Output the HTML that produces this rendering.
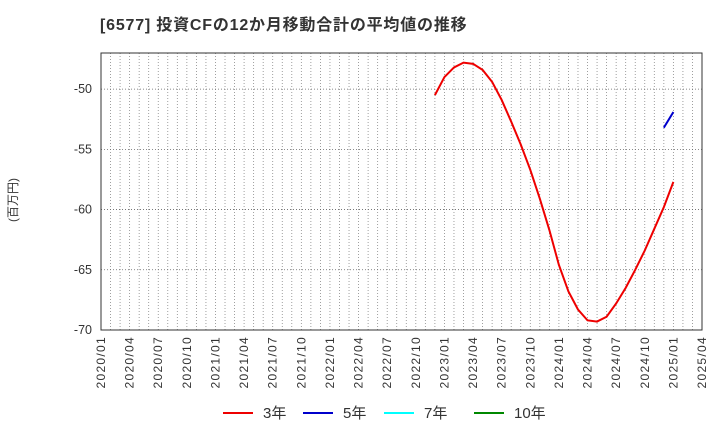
<!DOCTYPE html>
<html><head><meta charset="utf-8"><style>
body{margin:0;background:#fff;width:720px;height:440px;overflow:hidden;font-family:"Liberation Sans","Noto Sans CJK JP",sans-serif;}
</style></head><body>
<svg id="chart" width="720" height="440" xmlns="http://www.w3.org/2000/svg" font-family="Liberation Sans, Noto Sans CJK JP, sans-serif">
<text x="100" y="30" font-size="16" font-weight="bold" fill="#333" letter-spacing="0.8">[6577]  投資CFの12か月移動合計の平均値の推移</text>
<text transform="translate(17,200) rotate(-90)" font-size="12" fill="#333" text-anchor="middle">(百万円)</text>
<g id="grid"></g><g id="axes"></g><g id="series"></g>
<g font-size="15" fill="#333">
<line x1="223" y1="413" x2="253" y2="413" stroke="#e00" stroke-width="2"/><text x="263" y="418">3年</text>
<line x1="303" y1="413" x2="333" y2="413" stroke="#00c" stroke-width="2"/><text x="343" y="418">5年</text>
<line x1="384" y1="413" x2="414" y2="413" stroke="#0ff" stroke-width="2"/><text x="424" y="418">7年</text>
<line x1="474" y1="413" x2="504" y2="413" stroke="#080" stroke-width="2"/><text x="514" y="418">10年</text>
</g>
</svg>
<script>
const yTicks=[-50,-55,-60,-65,-70];
const xTickLabels=["2020/01","2020/04","2020/07","2020/10","2021/01","2021/04","2021/07","2021/10","2022/01","2022/04","2022/07","2022/10","2023/01","2023/04","2023/07","2023/10","2024/01","2024/04","2024/07","2024/10","2025/01","2025/04"];
const s3Start="2022/12";
const s3Values=[-50.5,-49.0,-48.2,-47.8,-47.9,-48.4,-49.4,-50.9,-52.7,-54.6,-56.7,-59.1,-61.7,-64.6,-66.8,-68.3,-69.2,-69.3,-68.9,-67.8,-66.5,-65.0,-63.4,-61.6,-59.8,-57.7];
const s5Start="2024/12";
const s5Values=[-53.2,-51.9];
const L=101,R=702,T=53,B=330,yMin=-70,yMax=-47;
const totalMonths=63;
const ns="http://www.w3.org/2000/svg";
function mIdx(s){const[a,b]=s.split("/").map(Number);return (a-2020)*12+(b-1);}
function xS(m){return L+(R-L)*m/totalMonths;}
function yS(v){return B-(v-yMin)/(yMax-yMin)*(B-T);}
function mk(t,a,p){const e=document.createElementNS(ns,t);for(const k in a)e.setAttribute(k,a[k]);p.appendChild(e);return e;}
const grid=document.getElementById("grid"),axes=document.getElementById("axes"),ser=document.getElementById("series");
mk("rect",{x:L,y:T,width:R-L,height:B-T,fill:"#fff",stroke:"none"},grid);
for(let m=1;m<totalMonths;m++){const g=mk("line",{x1:xS(m),y1:T,x2:xS(m),y2:B,stroke:"#888","stroke-width":0.8,"stroke-dasharray":"1,2"},grid);

}
yTicks.forEach(v=>{const g=mk("line",{x1:L,y1:yS(v),x2:R,y2:yS(v),stroke:"#666","stroke-width":0.8,"stroke-dasharray":"1,2"},grid);


const t=mk("text",{x:L-9,y:yS(v)+4,"font-size":12.5,"text-anchor":"end",fill:"#333"},axes);t.textContent=v;

});
mk("rect",{x:L,y:T,width:R-L,height:B-T,fill:"none",stroke:"#333","stroke-width":1},axes);
xTickLabels.forEach(s=>{const x=xS(mIdx(s));const t=mk("text",{transform:`translate(${x+4},${B+6}) rotate(-90)`,"font-size":12,"letter-spacing":1.3,"text-anchor":"end",fill:"#333"},axes);t.textContent=s;

});
function line(start,vals,color,name){const m0=mIdx(start);const pts=vals.map((v,i)=>xS(m0+i)+","+yS(v)).join(" ");
const p=mk("polyline",{points:pts,fill:"none",stroke:color,"stroke-width":2},ser);

}
line(s3Start,s3Values,"#e00","series-3yr");
line(s5Start,s5Values,"#00c","series-5yr");
</script>
</body></html>
